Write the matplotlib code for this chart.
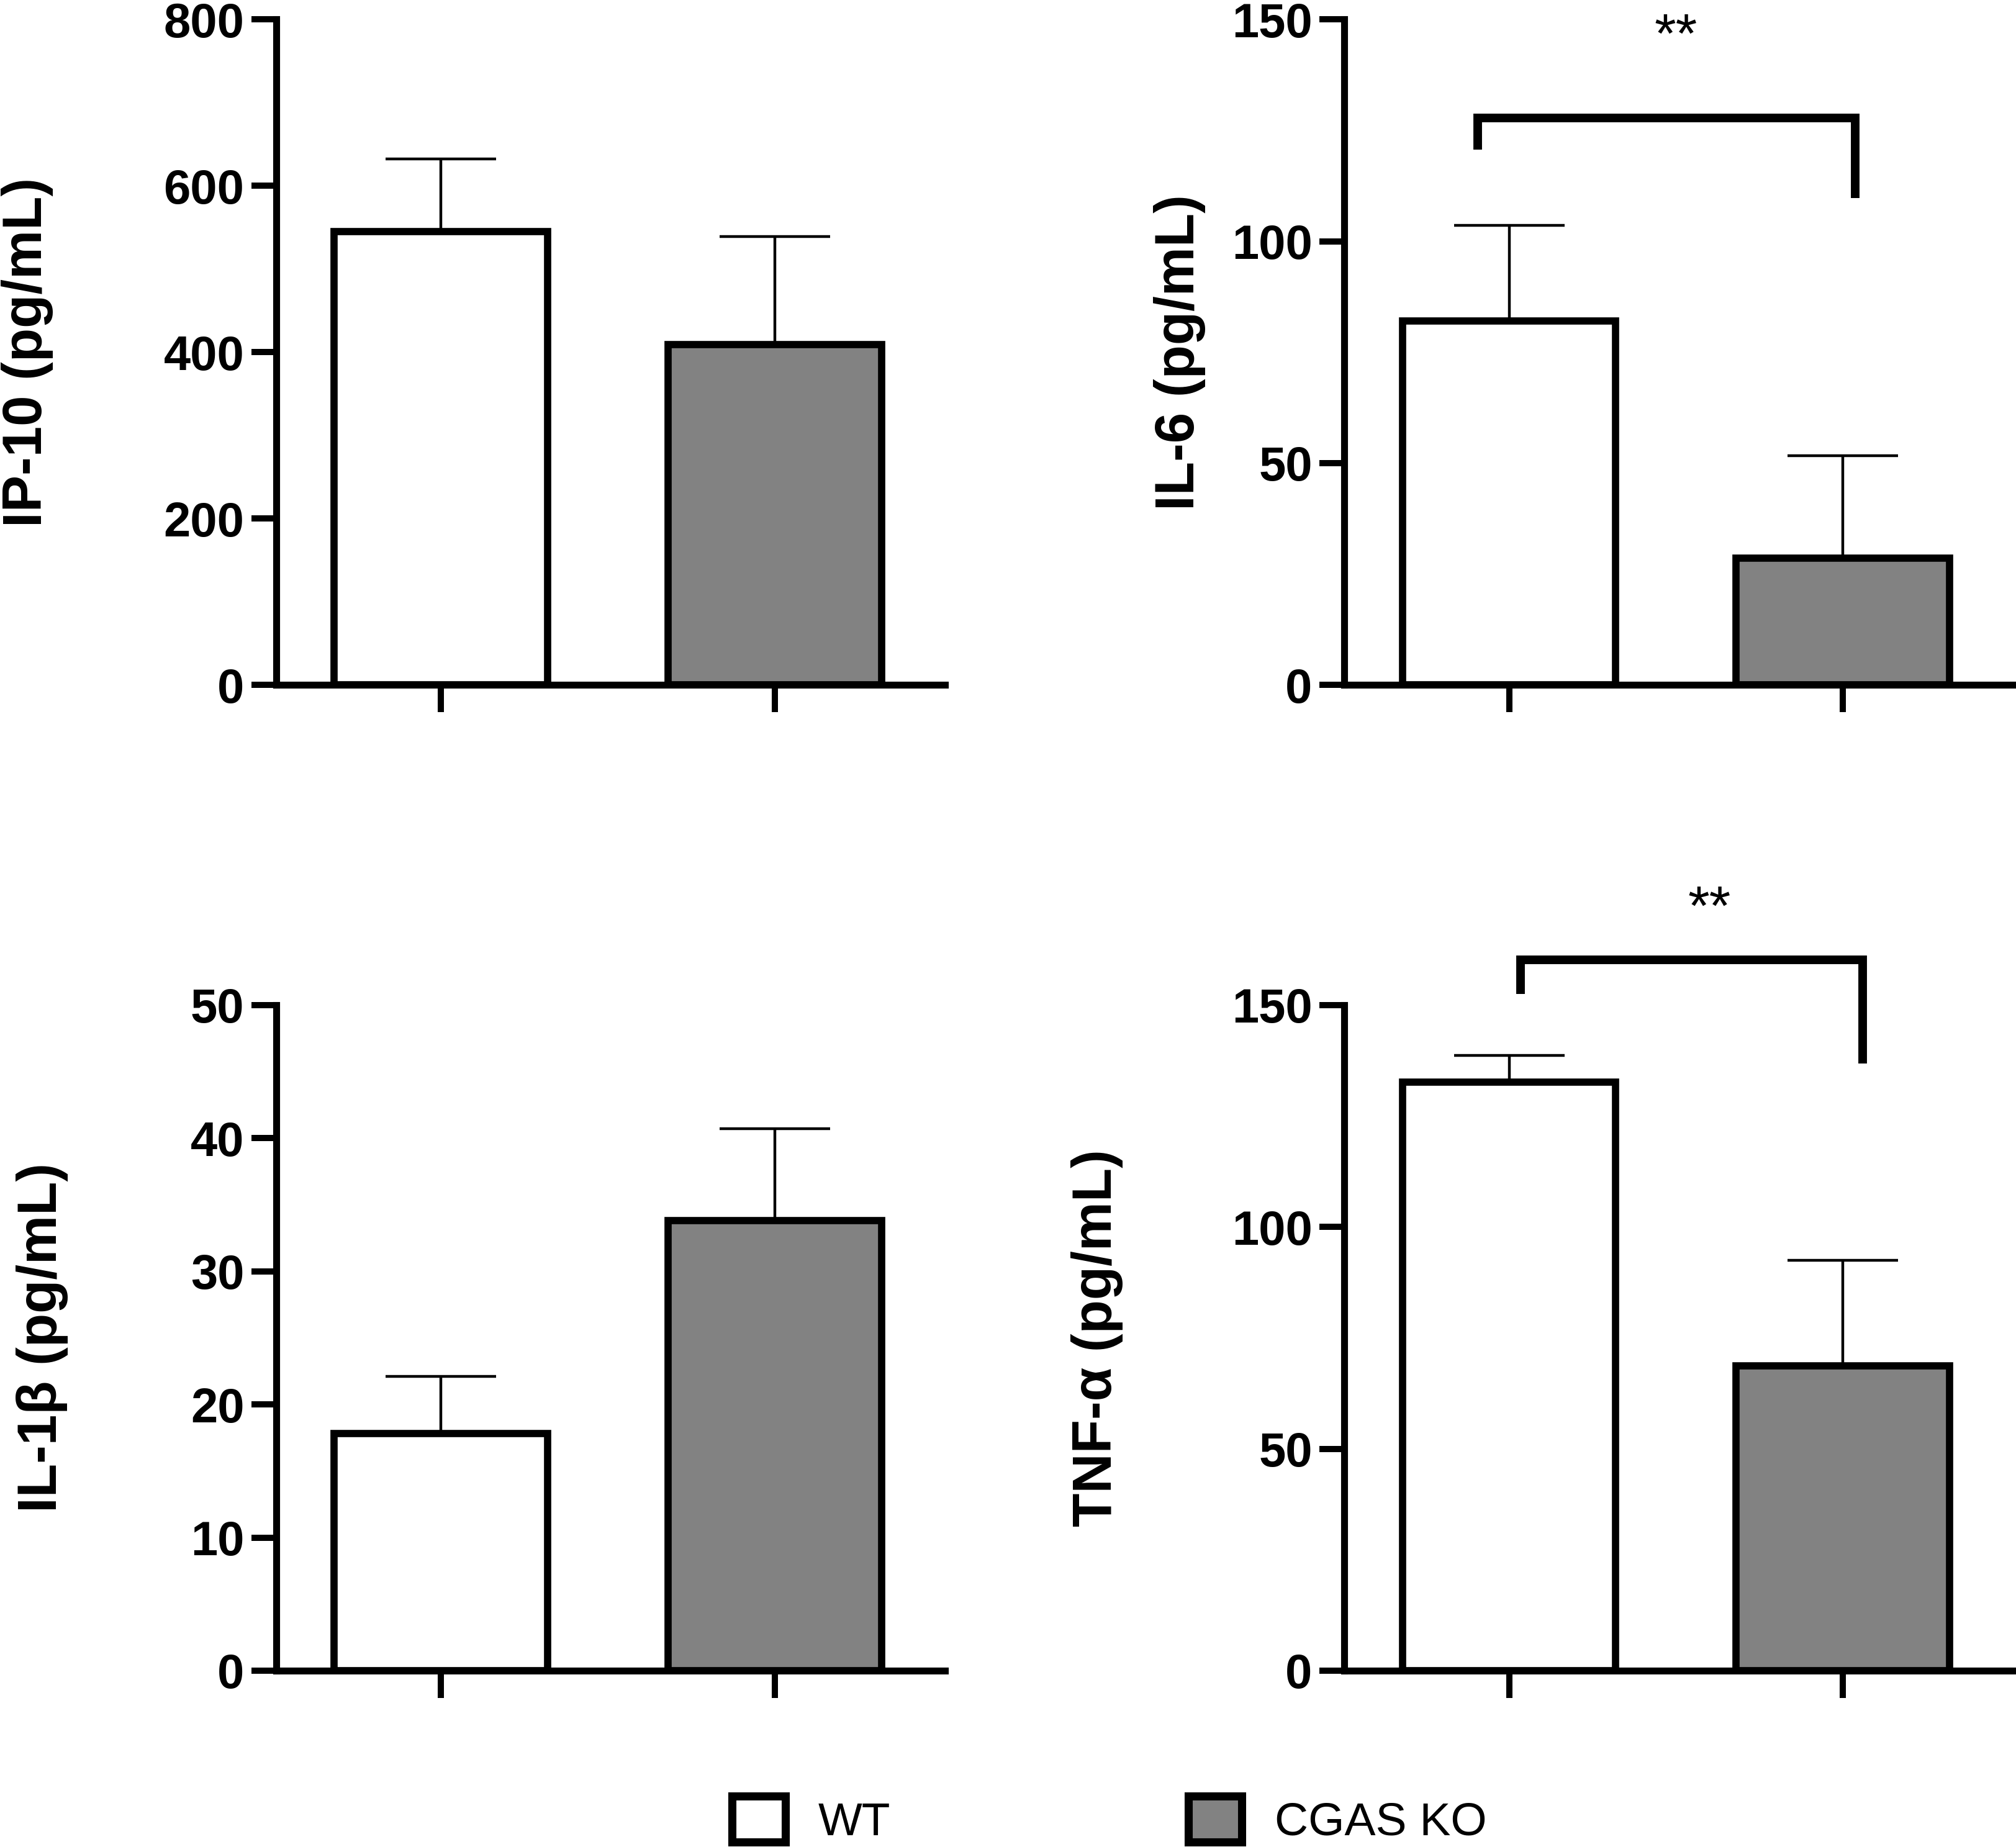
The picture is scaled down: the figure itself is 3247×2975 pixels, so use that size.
import matplotlib.pyplot as plt
from matplotlib.patches import Patch

plt.rcParams["font.family"] = ["Liberation Sans", "DejaVu Sans"]

# groups and colours
groups = ["WT", "CGAS KO"]
bar_colors = ["white", "#828282"]

# mean and upper error (SEM), pg/mL
ip10_mean = [545, 409]
ip10_sem = [87, 130]

il6_mean = [82.0, 28.6]
il6_sem = [21.6, 23.1]

il1b_mean = [17.8, 33.8]
il1b_sem = [4.3, 6.9]

tnf_mean = [132.6, 68.7]
tnf_sem = [6.0, 23.8]

# significance brackets: x ends, leg bottoms, bar height, star label position
il6_sig = dict(x=[-0.094, 1.037], legs=[120.6, 109.7], top=127.8, star_x=0.5, star_y=142.6)
tnf_sig = dict(x=[0.035, 1.059], legs=[152.5, 136.9], top=160.2, star_x=0.6, star_y=168.2)

fig = plt.figure(figsize=(16.24, 14.875), dpi=200)

col_left = [0.137, 0.6666]
col_width = 0.3315
row_bottom = [0.6292, 0.0955]
row_height = 0.3603

panels = [
    dict(label="IP-10 (pg/mL)", mean=ip10_mean, sem=ip10_sem, ymax=800, step=200,
         pos=(0, 0), label_x=0.0265, sig=None),
    dict(label="IL-6 (pg/mL)", mean=il6_mean, sem=il6_sem, ymax=150, step=50,
         pos=(1, 0), label_x=0.598, sig=il6_sig),
    dict(label="IL-1\u03b2 (pg/mL)", mean=il1b_mean, sem=il1b_sem, ymax=50, step=10,
         pos=(0, 1), label_x=0.034, sig=None),
    dict(label="TNF-\u03b1 (pg/mL)", mean=tnf_mean, sem=tnf_sem, ymax=150, step=50,
         pos=(1, 1), label_x=0.557, sig=tnf_sig),
]

x = [0, 1]
for p in panels:
    c, r = p["pos"]
    ax = fig.add_axes([col_left[c], row_bottom[r], col_width, row_height])
    ax.bar(x, p["mean"], width=0.64, color=bar_colors, edgecolor="black",
           linewidth=4.2, zorder=2)
    ax.errorbar(x, p["mean"], yerr=[[0, 0], p["sem"]], fmt="none", ecolor="black",
                elinewidth=1.6, capsize=32, capthick=1.6, zorder=1)
    ax.set_xlim(-0.494, 1.51)
    ax.set_ylim(0, p["ymax"])
    ax.set_yticks(range(0, p["ymax"] + 1, p["step"]))
    ax.set_xticks(x)
    ax.set_xticklabels([])
    for side in ["top", "right"]:
        ax.spines[side].set_visible(False)
    for side in ["left", "bottom"]:
        ax.spines[side].set_linewidth(4.0)
    ax.tick_params(axis="y", length=14.5, width=3.6, pad=4, labelsize=28)
    ax.tick_params(axis="x", length=16, width=3.6)
    for t in ax.get_yticklabels():
        t.set_fontweight("bold")
    ax.set_ylabel(p["label"], fontsize=32, fontweight="bold")
    ax.yaxis.set_label_coords(p["label_x"], row_bottom[r] + row_height / 2,
                              transform=fig.transFigure)

    s = p["sig"]
    if s:
        ax.plot([s["x"][0], s["x"][0], s["x"][1], s["x"][1]],
                [s["legs"][0], s["top"], s["top"], s["legs"][1]],
                color="black", linewidth=5, clip_on=False,
                solid_joinstyle="miter", solid_capstyle="butt")
        ax.text(s["star_x"], s["star_y"], "**", ha="center", va="baseline",
                fontsize=32, clip_on=False)

handles = [Patch(facecolor=col, edgecolor="black", linewidth=4.7, joinstyle="round")
           for col in bar_colors]
fig.legend(handles, groups, loc="center", bbox_to_anchor=(0.55, 0.0145), ncol=2,
           frameon=False, fontsize=27, handlelength=1.15, handleheight=1.15,
           handletextpad=0.7, columnspacing=6.4, borderpad=0, borderaxespad=0)

fig.savefig("out.png", dpi=200)
